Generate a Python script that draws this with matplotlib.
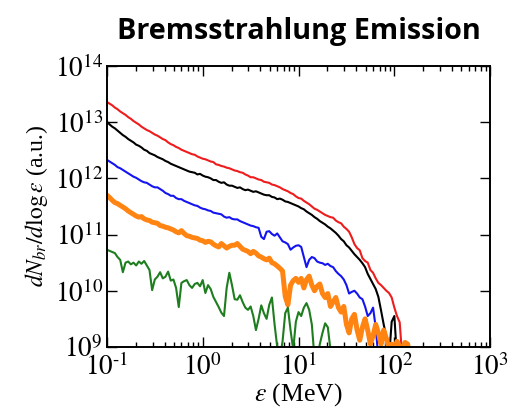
import numpy as np
import matplotlib
matplotlib.use("Agg")
import matplotlib.pyplot as plt
from matplotlib.ticker import LogLocator, FixedLocator, FixedFormatter, NullLocator

# Photon energy bins (MeV), 36 bins per decade starting at 0.1 MeV
energy = np.logspace(-1, -1 + 115 / 36, 116)

# log10 of dN/dlog(eps) per bin; values under 1e9 fall below the plotted range
red = [13.36, 13.33, 13.30, 13.26, 13.23, 13.19, 13.16, 13.13, 13.09, 13.06,
       13.02, 12.99, 12.96, 12.92, 12.89, 12.86, 12.84, 12.81, 12.78, 12.76,
       12.73, 12.70, 12.68, 12.64, 12.61, 12.59, 12.56, 12.54, 12.51, 12.49,
       12.47, 12.45, 12.43, 12.42, 12.39, 12.37, 12.35, 12.34, 12.32, 12.30,
       12.29, 12.25, 12.24, 12.22, 12.21, 12.19, 12.18, 12.16, 12.14, 12.13,
       12.11, 12.10, 12.07, 12.05, 12.02, 12.02, 12.00, 11.98, 11.97, 11.94,
       11.93, 11.92, 11.89, 11.88, 11.86, 11.84, 11.81, 11.79, 11.77, 11.74,
       11.72, 11.68, 11.65, 11.64, 11.60, 11.57, 11.54, 11.50, 11.46, 11.44,
       11.41, 11.38, 11.35, 11.33, 11.31, 11.30, 11.25, 11.22, 11.20, 11.14,
       11.10, 11.05, 10.95, 10.83, 10.76, 10.72, 10.58, 10.53, 10.50, 10.37,
       10.32, 10.22, 10.14, 10.10, 10.05, 10.00, 9.96, 9.88, 9.70, 9.55,
       9.44, 8.80]

black = [13.01, 12.96, 12.92, 12.89, 12.85, 12.81, 12.77, 12.74, 12.70, 12.67,
         12.64, 12.60, 12.58, 12.55, 12.51, 12.49, 12.45, 12.43, 12.41, 12.38,
         12.36, 12.34, 12.31, 12.29, 12.26, 12.24, 12.22, 12.20, 12.18, 12.16,
         12.14, 12.12, 12.11, 12.10, 12.07, 12.08, 12.05, 12.03, 12.02, 12.00,
         11.97, 11.97, 11.94, 11.92, 11.93, 11.89, 11.87, 11.87, 11.85, 11.83,
         11.84, 11.81, 11.79, 11.80, 11.78, 11.76, 11.77, 11.75, 11.73, 11.71,
         11.70, 11.70, 11.67, 11.66, 11.63, 11.64, 11.62, 11.59, 11.58, 11.56,
         11.54, 11.52, 11.50, 11.47, 11.45, 11.41, 11.38, 11.35, 11.31, 11.28,
         11.24, 11.21, 11.18, 11.14, 11.11, 11.07, 11.03, 10.98, 10.92, 10.88,
         10.81, 10.77, 10.71, 10.65, 10.60, 10.55, 10.49, 10.42, 10.30, 10.21,
         10.12, 10.03, 9.89, 9.65, 9.40, 9.18, 8.80, 9.45, 9.55, 8.80]

blue = [12.33, 12.30, 12.27, 12.24, 12.20, 12.18, 12.15, 12.12, 12.09, 12.06,
        12.03, 12.01, 11.98, 11.95, 11.93, 11.92, 11.89, 11.86, 11.84, 11.84,
        11.81, 11.78, 11.74, 11.72, 11.69, 11.69, 11.65, 11.63, 11.63, 11.60,
        11.58, 11.56, 11.54, 11.52, 11.51, 11.48, 11.46, 11.45, 11.43, 11.42,
        11.39, 11.38, 11.37, 11.36, 11.32, 11.30, 11.31, 11.28, 11.27, 11.27,
        11.24, 11.22, 11.20, 11.18, 11.16, 11.15, 11.13, 11.12, 10.96, 10.92,
        11.05, 11.06, 11.01, 10.98, 11.02, 10.95, 10.88, 10.86, 10.83, 10.73,
        10.77, 10.80, 10.81, 10.78, 10.60, 10.42, 10.55, 10.60, 10.58, 10.52,
        10.50, 10.49, 10.46, 10.48, 10.44, 10.42, 10.35, 10.30, 10.26, 10.20,
        10.10, 9.95, 9.98, 10.00, 9.95, 9.88, 9.85, 9.72, 9.55, 9.60,
        9.70, 9.35, 8.80]

orange = [11.70, 11.66, 11.61, 11.57, 11.55, 11.52, 11.49, 11.46, 11.42, 11.39,
          11.36, 11.33, 11.31, 11.32, 11.28, 11.26, 11.25, 11.22, 11.21, 11.20,
          11.16, 11.15, 11.13, 11.12, 11.10, 11.08, 11.05, 11.03, 11.07, 11.02,
          10.98, 10.97, 10.95, 10.94, 10.93, 10.90, 10.89, 10.86, 10.88, 10.87,
          10.83, 10.80, 10.78, 10.84, 10.80, 10.76, 10.79, 10.81, 10.81, 10.84,
          10.79, 10.74, 10.72, 10.70, 10.66, 10.70, 10.67, 10.62, 10.60, 10.57,
          10.55, 10.58, 10.50, 10.48, 10.44, 10.40, 10.35, 9.90, 9.75, 10.10,
          10.18, 10.22, 10.15, 10.22, 10.05, 10.20, 10.26, 10.10, 10.00, 10.08,
          10.12, 9.95, 9.88, 9.95, 9.72, 9.80, 9.88, 9.70, 9.62, 9.72,
          9.40, 9.25, 9.50, 9.58, 9.30, 9.12, 9.35, 9.50, 9.30, 9.05,
          9.20, 9.40, 9.25, 9.05, 9.30, 9.15, 8.95, 9.05, 8.95, 9.10,
          9.00, 8.95, 9.08, 9.05, 8.80]

green = [10.73, 10.71, 10.69, 10.67, 10.60, 10.55, 10.33, 10.50, 10.52, 10.47,
         10.50, 10.45, 10.52, 10.48, 10.53, 10.45, 10.37, 10.01, 10.20, 10.25,
         10.33, 10.22, 10.25, 10.34, 10.18, 10.20, 10.05, 9.71, 10.14, 10.17,
         10.19, 10.10, 10.05, 10.12, 10.14, 10.08, 10.19, 9.96, 10.10, 10.03,
         9.89, 9.80, 9.71, 9.61, 9.55, 10.05, 10.32, 10.10, 9.85, 9.84,
         9.92, 9.80, 9.70, 9.66, 9.72, 9.55, 9.30, 9.50, 9.74, 9.60,
         9.50, 9.75, 9.88, 9.40, 9.00, 8.80, 9.10, 9.60, 9.70, 9.30,
         8.95, 9.45, 9.62, 9.55, 9.70, 9.78, 9.66, 9.40, 8.80, 8.80,
         9.05, 9.25, 9.42, 9.35, 8.95, 8.80]

series = [
    (red, "#ee1c1c", 1.5),
    (black, "#000000", 1.5),
    (blue, "#1414f0", 1.5),
    (orange, "#ff8412", 3.6),
    (green, "#1e7d1e", 1.5),
]

plt.rcParams["mathtext.fontset"] = "stix"
plt.rcParams["font.family"] = ["Liberation Serif", "DejaVu Serif"]

fig = plt.figure(figsize=(5.09, 4.15), dpi=100)
ax = fig.add_axes([0.210, 0.164, 0.753, 0.677])

for vals, color, lw in series:
    n = len(vals)
    ax.plot(energy[:n], 10.0 ** np.asarray(vals), color=color, lw=lw,
            solid_joinstyle="round")

ax.set_xscale("log")
ax.set_yscale("log")
ax.set_xlim(1e-1, 1e3)
ax.set_ylim(1e9, 1e14)

xt = [1e-1, 1e0, 1e1, 1e2, 1e3]
xl = [r"$10^{\text{-}1}$", r"$10^{0}$", r"$10^{1}$", r"$10^{2}$", r"$10^{3}$"]
ax.xaxis.set_major_locator(FixedLocator(xt))
ax.xaxis.set_major_formatter(FixedFormatter(xl))
ax.xaxis.set_minor_locator(LogLocator(base=10, subs=np.arange(2, 10), numticks=20))

yt = [1e9, 1e10, 1e11, 1e12, 1e13, 1e14]
yl = [r"$10^{9}$", r"$10^{10}$", r"$10^{11}$", r"$10^{12}$", r"$10^{13}$", r"$10^{14}$"]
ax.yaxis.set_major_locator(FixedLocator(yt))
ax.yaxis.set_major_formatter(FixedFormatter(yl))
ax.yaxis.set_minor_locator(NullLocator())

ax.tick_params(which="both", direction="in", top=True, right=True,
               labelsize=19.5, width=1.0, colors="black")
ax.tick_params(which="major", length=7)
ax.tick_params(axis="y", which="major", pad=3)
ax.tick_params(axis="x", which="major", pad=5)
ax.tick_params(which="minor", length=3.5)
for s in ax.spines.values():
    s.set_linewidth(1.4)

ax.set_xlabel(r"$\varepsilon$ (MeV)", fontsize=18.5, labelpad=0)
ax.set_ylabel(r"$dN_{br}/d\log\varepsilon$ (a.u.)", fontsize=17, labelpad=3)

fig.text(0.587, 0.925, "Bremsstrahlung Emission", ha="center", va="center",
         fontsize=20.7, fontweight="bold", family=["Open Sans", "DejaVu Sans"])

fig.savefig("out.png", dpi=100)
